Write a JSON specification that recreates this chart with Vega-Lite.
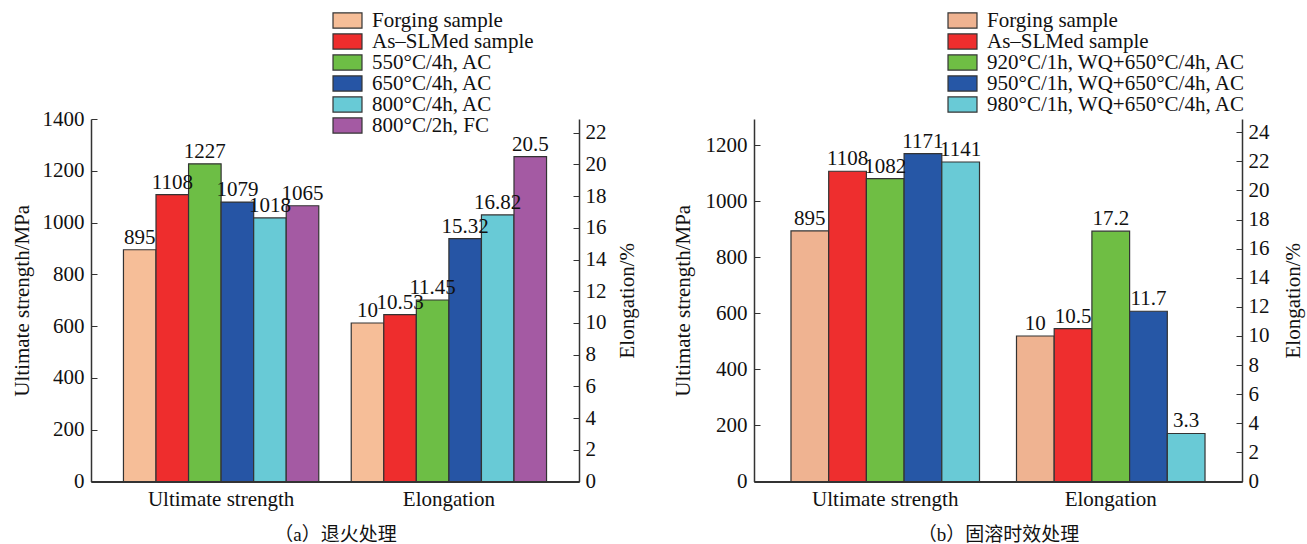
{
  "$schema": "https://vega.github.io/schema/vega-lite/v6.json",
  "background": "white",
  "padding": {"left": 11, "top": 10, "right": 5, "bottom": 5},
  "spacing": 35,
  "config": {
    "view": {"stroke": null},
    "font": "Liberation Serif, Times New Roman, serif",
    "axis": {
      "labelFont": "Liberation Serif, Times New Roman, serif",
      "titleFont": "Liberation Serif, Times New Roman, serif",
      "labelColor": "#111",
      "titleColor": "#111",
      "titleFontWeight": "normal",
      "labelFontSize": 21,
      "titleFontSize": 21,
      "grid": false,
      "domainColor": "#333",
      "tickColor": "#333"
    }
  },
  "resolve": {
    "scale": {"color": "independent", "x": "independent", "xOffset": "independent", "y": "independent"},
    "legend": {"color": "independent"}
  },
  "hconcat": [
    {
      "width": 488,
      "height": 362.5,
      "data": {
        "values": [
          {"property": "Ultimate strength", "condition": "Forging sample", "value": 895},
          {"property": "Ultimate strength", "condition": "As–SLMed sample", "value": 1108},
          {"property": "Ultimate strength", "condition": "550°C/4h, AC", "value": 1227},
          {"property": "Ultimate strength", "condition": "650°C/4h, AC", "value": 1079},
          {"property": "Ultimate strength", "condition": "800°C/4h, AC", "value": 1018},
          {"property": "Ultimate strength", "condition": "800°C/2h, FC", "value": 1065},
          {"property": "Elongation", "condition": "Forging sample", "value": 10},
          {"property": "Elongation", "condition": "As–SLMed sample", "value": 10.53},
          {"property": "Elongation", "condition": "550°C/4h, AC", "value": 11.45},
          {"property": "Elongation", "condition": "650°C/4h, AC", "value": 15.32},
          {"property": "Elongation", "condition": "800°C/4h, AC", "value": 16.82},
          {"property": "Elongation", "condition": "800°C/2h, FC", "value": 20.5}
        ]
      },
      "encoding": {
        "x": {
          "field": "property", "type": "nominal",
          "scale": {"domain": ["Ultimate strength", "Elongation"], "paddingInner": 0.1425, "paddingOuter": 0.1425},
          "axis": {
            "title": "（a）退火处理",
            "titleFont": "Liberation Serif, Noto Sans CJK SC",
            "titleFontSize": 19,
            "titlePadding": 16,
            "labelAngle": 0,
            "ticks": false,
            "labelPadding": 7,
            "domainWidth": 2
          }
        },
        "xOffset": {
          "field": "condition", "type": "nominal",
          "scale": {
            "domain": ["Forging sample", "As–SLMed sample", "550°C/4h, AC", "650°C/4h, AC", "800°C/4h, AC", "800°C/2h, FC"],
            "paddingInner": 0, "paddingOuter": 0
          }
        }
      },
      "layer": [
        {
          "transform": [{"filter": "datum.property === 'Ultimate strength'"}],
          "encoding": {
            "y": {
              "field": "value", "type": "quantitative",
              "scale": {"domain": [0, 1400], "nice": false},
              "axis": {
                "orient": "left",
                "title": "Ultimate strength/MPa",
                "values": [0, 200, 400, 600, 800, 1000, 1200, 1400],
                "format": "d",
                "tickSize": -6,
                "labelPadding": 13,
                "titlePadding": 10,
                "domainWidth": 1.5
              }
            }
          },
          "layer": [
            {
              "mark": {"type": "bar", "stroke": "#333", "strokeWidth": 1.2},
              "encoding": {
                "color": {
                  "field": "condition", "type": "nominal",
                  "scale": {
                    "domain": ["Forging sample", "As–SLMed sample", "550°C/4h, AC", "650°C/4h, AC", "800°C/4h, AC", "800°C/2h, FC"],
                    "range": ["#F6BE98", "#EE2D2D", "#6DBE45", "#2655A5", "#68CAD6", "#A45AA3"]
                  },
                  "legend": {
                    "title": null, "orient": "none", "legendX": 246, "legendY": -109,
                    "symbolType": "M-2,-1.04H2V1.04H-2Z", "symbolSize": 210,
                    "symbolStrokeColor": "#333", "symbolStrokeWidth": 1.2, "symbolOpacity": 1,
                    "labelFont": "Liberation Serif, Times New Roman, serif", "labelFontSize": 21, "labelColor": "#111",
                    "labelOffset": 14, "labelLimit": 0, "rowPadding": -1, "padding": 0
                  }
                }
              }
            },
            {
              "mark": {"type": "text", "baseline": "alphabetic", "dy": -6, "fontSize": 21, "color": "#111"},
              "encoding": {"text": {"field": "value", "type": "nominal"}}
            }
          ]
        },
        {
          "transform": [{"filter": "datum.property === 'Elongation'"}],
          "encoding": {
            "y": {
              "field": "value", "type": "quantitative",
              "scale": {"domain": [0, 22.87], "nice": false},
              "axis": {
                "orient": "right",
                "title": "Elongation/%",
                "titleAngle": 270,
                "titleBaseline": "top",
                "values": [0, 2, 4, 6, 8, 10, 12, 14, 16, 18, 20, 22],
                "format": "d",
                "tickSize": -6,
                "labelPadding": 12,
                "titlePadding": 10,
                "domainWidth": 1.5
              }
            }
          },
          "layer": [
            {
              "mark": {"type": "bar", "stroke": "#333", "strokeWidth": 1.2},
              "encoding": {
                "color": {
                  "field": "condition", "type": "nominal",
                  "scale": {
                    "domain": ["Forging sample", "As–SLMed sample", "550°C/4h, AC", "650°C/4h, AC", "800°C/4h, AC", "800°C/2h, FC"],
                    "range": ["#F6BE98", "#EE2D2D", "#6DBE45", "#2655A5", "#68CAD6", "#A45AA3"]
                  },
                  "legend": {
                    "title": null, "orient": "none", "legendX": 246, "legendY": -109,
                    "symbolType": "M-2,-1.04H2V1.04H-2Z", "symbolSize": 210,
                    "symbolStrokeColor": "#333", "symbolStrokeWidth": 1.2, "symbolOpacity": 1,
                    "labelFont": "Liberation Serif, Times New Roman, serif", "labelFontSize": 21, "labelColor": "#111",
                    "labelOffset": 14, "labelLimit": 0, "rowPadding": -1, "padding": 0
                  }
                }
              }
            },
            {
              "mark": {"type": "text", "baseline": "alphabetic", "dy": -6, "fontSize": 21, "color": "#111"},
              "encoding": {"text": {"field": "value", "type": "nominal"}}
            }
          ]
        }
      ],
      "resolve": {"scale": {"y": "independent"}, "axis": {"y": "independent"}}
    },
    {
      "width": 488,
      "height": 362.5,
      "data": {
        "values": [
          {"property": "Ultimate strength", "condition": "Forging sample", "value": 895},
          {"property": "Ultimate strength", "condition": "As–SLMed sample", "value": 1108},
          {"property": "Ultimate strength", "condition": "920°C/1h, WQ+650°C/4h, AC", "value": 1082},
          {"property": "Ultimate strength", "condition": "950°C/1h, WQ+650°C/4h, AC", "value": 1171},
          {"property": "Ultimate strength", "condition": "980°C/1h, WQ+650°C/4h, AC", "value": 1141},
          {"property": "Elongation", "condition": "Forging sample", "value": 10},
          {"property": "Elongation", "condition": "As–SLMed sample", "value": 10.5},
          {"property": "Elongation", "condition": "920°C/1h, WQ+650°C/4h, AC", "value": 17.2},
          {"property": "Elongation", "condition": "950°C/1h, WQ+650°C/4h, AC", "value": 11.7},
          {"property": "Elongation", "condition": "980°C/1h, WQ+650°C/4h, AC", "value": 3.3}
        ]
      },
      "encoding": {
        "x": {
          "field": "property", "type": "nominal",
          "scale": {"domain": ["Ultimate strength", "Elongation"], "paddingInner": 0.164, "paddingOuter": 0.164},
          "axis": {
            "title": "（b）固溶时效处理",
            "titleFont": "Liberation Serif, Noto Sans CJK SC",
            "titleFontSize": 19,
            "titlePadding": 16,
            "labelAngle": 0,
            "ticks": false,
            "labelPadding": 7,
            "domainWidth": 2
          }
        },
        "xOffset": {
          "field": "condition", "type": "nominal",
          "scale": {
            "domain": ["Forging sample", "As–SLMed sample", "920°C/1h, WQ+650°C/4h, AC", "950°C/1h, WQ+650°C/4h, AC", "980°C/1h, WQ+650°C/4h, AC"],
            "paddingInner": 0, "paddingOuter": 0
          }
        }
      },
      "layer": [
        {
          "transform": [{"filter": "datum.property === 'Ultimate strength'"}],
          "encoding": {
            "y": {
              "field": "value", "type": "quantitative",
              "scale": {"domain": [0, 1294.6], "nice": false},
              "axis": {
                "orient": "left",
                "title": "Ultimate strength/MPa",
                "values": [0, 200, 400, 600, 800, 1000, 1200],
                "format": "d",
                "tickSize": -6,
                "labelPadding": 13,
                "titlePadding": 12,
                "domainWidth": 1.5
              }
            }
          },
          "layer": [
            {
              "mark": {"type": "bar", "stroke": "#333", "strokeWidth": 1.2},
              "encoding": {
                "color": {
                  "field": "condition", "type": "nominal",
                  "scale": {
                    "domain": ["Forging sample", "As–SLMed sample", "920°C/1h, WQ+650°C/4h, AC", "950°C/1h, WQ+650°C/4h, AC", "980°C/1h, WQ+650°C/4h, AC"],
                    "range": ["#EFB391", "#EE2E2E", "#6FBE44", "#2657A6", "#69CAD6"]
                  },
                  "legend": {
                    "title": null, "orient": "none", "legendX": 198, "legendY": -109,
                    "symbolType": "M-2,-1.04H2V1.04H-2Z", "symbolSize": 210,
                    "symbolStrokeColor": "#333", "symbolStrokeWidth": 1.2, "symbolOpacity": 1,
                    "labelFont": "Liberation Serif, Times New Roman, serif", "labelFontSize": 21, "labelColor": "#111",
                    "labelOffset": 14, "labelLimit": 0, "rowPadding": -1, "padding": 0
                  }
                }
              }
            },
            {
              "mark": {"type": "text", "baseline": "alphabetic", "dy": -6, "fontSize": 21, "color": "#111"},
              "encoding": {"text": {"field": "value", "type": "nominal"}}
            }
          ]
        },
        {
          "transform": [{"filter": "datum.property === 'Elongation'"}],
          "encoding": {
            "y": {
              "field": "value", "type": "quantitative",
              "scale": {"domain": [0, 24.91], "nice": false},
              "axis": {
                "orient": "right",
                "title": "Elongation/%",
                "titleAngle": 270,
                "titleBaseline": "top",
                "values": [0, 2, 4, 6, 8, 10, 12, 14, 16, 18, 20, 22, 24],
                "format": "d",
                "tickSize": -6,
                "labelPadding": 12,
                "titlePadding": 13,
                "domainWidth": 1.5
              }
            }
          },
          "layer": [
            {
              "mark": {"type": "bar", "stroke": "#333", "strokeWidth": 1.2},
              "encoding": {
                "color": {
                  "field": "condition", "type": "nominal",
                  "scale": {
                    "domain": ["Forging sample", "As–SLMed sample", "920°C/1h, WQ+650°C/4h, AC", "950°C/1h, WQ+650°C/4h, AC", "980°C/1h, WQ+650°C/4h, AC"],
                    "range": ["#EFB391", "#EE2E2E", "#6FBE44", "#2657A6", "#69CAD6"]
                  },
                  "legend": {
                    "title": null, "orient": "none", "legendX": 198, "legendY": -109,
                    "symbolType": "M-2,-1.04H2V1.04H-2Z", "symbolSize": 210,
                    "symbolStrokeColor": "#333", "symbolStrokeWidth": 1.2, "symbolOpacity": 1,
                    "labelFont": "Liberation Serif, Times New Roman, serif", "labelFontSize": 21, "labelColor": "#111",
                    "labelOffset": 14, "labelLimit": 0, "rowPadding": -1, "padding": 0
                  }
                }
              }
            },
            {
              "mark": {"type": "text", "baseline": "alphabetic", "dy": -6, "fontSize": 21, "color": "#111"},
              "encoding": {"text": {"field": "value", "type": "nominal"}}
            }
          ]
        }
      ],
      "resolve": {"scale": {"y": "independent"}, "axis": {"y": "independent"}}
    }
  ]
}
